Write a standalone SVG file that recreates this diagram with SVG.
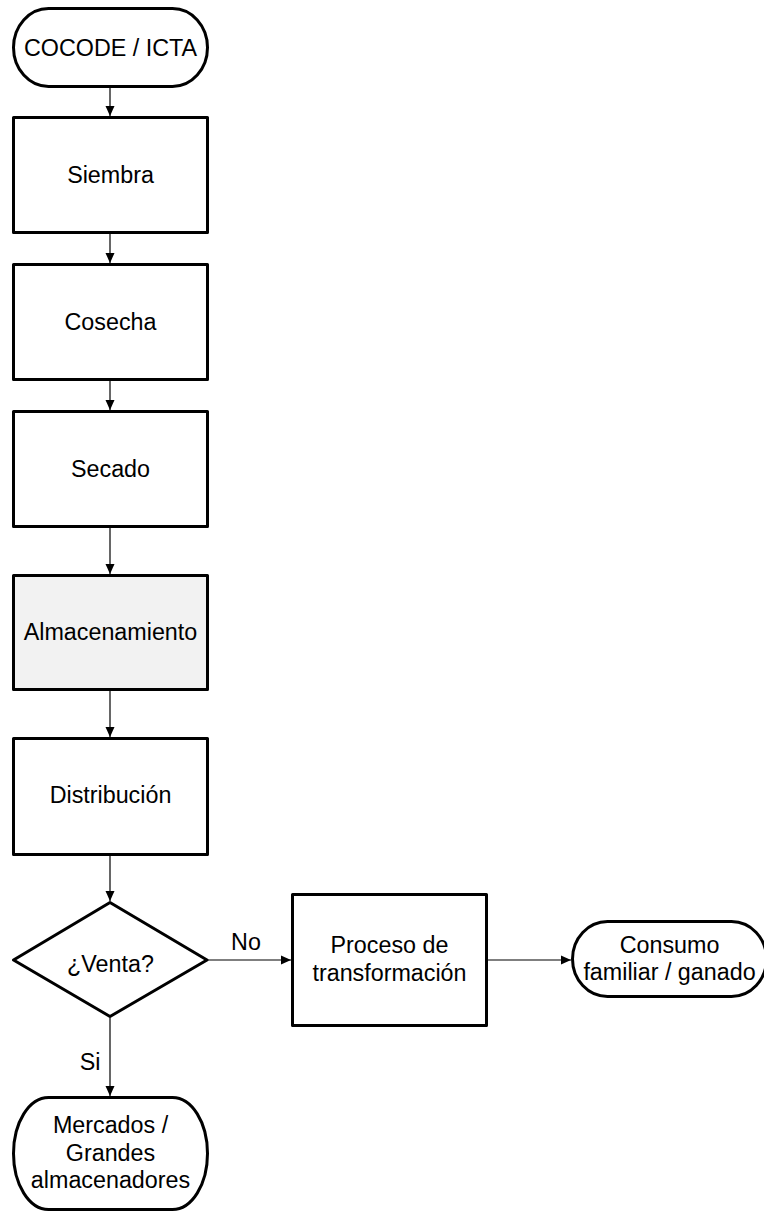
<svg xmlns="http://www.w3.org/2000/svg" width="764" height="1213" viewBox="0 0 764 1213">
<defs>
<style>
.n{fill:#fff;stroke:#000;stroke-width:3;stroke-linejoin:round}
.g{fill:#f2f2f2}
.t{font-family:"Liberation Sans",Arial,sans-serif;font-size:23.3px;fill:#000;text-anchor:middle}
.c{fill:none;stroke:#000;stroke-width:1.2}
</style>
<marker id="ah" markerUnits="userSpaceOnUse" markerWidth="10" markerHeight="10" viewBox="0 0 10 10" refX="10" refY="5" orient="auto">
<path d="M0,0.5 L10,5 L0,9.5 Z" fill="#000"/>
</marker>
</defs>
<rect width="764" height="1213" fill="#fff"/>
<g id="connectors">
<line class="c" x1="110" y1="88" x2="110" y2="116" marker-end="url(#ah)"/>
<line class="c" x1="110" y1="234" x2="110" y2="263" marker-end="url(#ah)"/>
<line class="c" x1="110" y1="381" x2="110" y2="410" marker-end="url(#ah)"/>
<line class="c" x1="110" y1="528" x2="110" y2="574" marker-end="url(#ah)"/>
<line class="c" x1="110" y1="691" x2="110" y2="737" marker-end="url(#ah)"/>
<line class="c" x1="110" y1="856" x2="110" y2="901" marker-end="url(#ah)"/>
<line class="c" x1="110" y1="1018" x2="110" y2="1096" marker-end="url(#ah)"/>
<line class="c" x1="208" y1="960" x2="291" y2="960" marker-end="url(#ah)"/>
<line class="c" x1="488" y1="960" x2="571" y2="960" marker-end="url(#ah)"/>
<text class="t" x="246" y="950">No</text>
<text class="t" x="90" y="1070">Si</text>
</g>
<g id="cocode">
<rect class="n" x="13.5" y="8.5" width="194" height="78" rx="35" ry="39"/>
<text class="t" x="110.5" y="56">COCODE / ICTA</text>
</g>
<g id="siembra">
<rect class="n" x="13.5" y="117.5" width="194" height="115"/>
<text class="t" x="110.5" y="183">Siembra</text>
</g>
<g id="cosecha">
<rect class="n" x="13.5" y="264.5" width="194" height="115"/>
<text class="t" x="110.5" y="330">Cosecha</text>
</g>
<g id="secado">
<rect class="n" x="13.5" y="411.5" width="194" height="115"/>
<text class="t" x="110.5" y="477">Secado</text>
</g>
<g id="almacenamiento">
<rect class="n g" x="13.5" y="575.5" width="194" height="114"/>
<text class="t" x="110.5" y="640">Almacenamiento</text>
</g>
<g id="distribucion">
<rect class="n" x="13.5" y="738.5" width="194" height="116"/>
<text class="t" x="110.5" y="803">Distribución</text>
</g>
<g id="venta">
<polygon class="n" points="110,902.5 207,960 110,1016.5 13.5,960"/>
<text class="t" x="110.5" y="972">¿Venta?</text>
</g>
<g id="proceso">
<rect class="n" x="292.5" y="894.5" width="194" height="131"/>
<text class="t" x="389.5" y="953">Proceso de</text>
<text class="t" x="389.5" y="981">transformación</text>
</g>
<g id="consumo">
<rect class="n" x="572.5" y="921.5" width="194" height="75" rx="35" ry="37.5"/>
<text class="t" x="669.5" y="953">Consumo</text>
<text class="t" x="669.5" y="980">familiar / ganado</text>
</g>
<g id="mercados">
<rect class="n" x="13.5" y="1097.5" width="194" height="112" rx="35" ry="56"/>
<text class="t" x="110.5" y="1133">Mercados /</text>
<text class="t" x="110.5" y="1161">Grandes</text>
<text class="t" x="110.5" y="1188">almacenadores</text>
</g>
</svg>
